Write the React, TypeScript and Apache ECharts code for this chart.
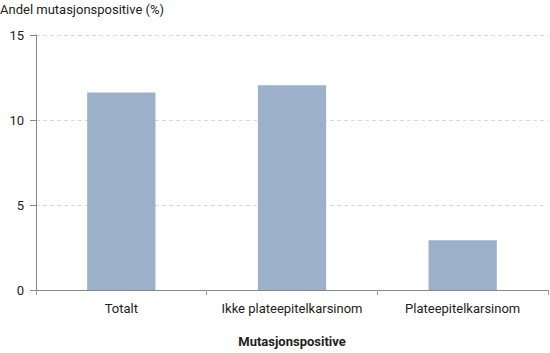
import React, { useEffect, useRef } from "react";
import * as echarts from "echarts";

const categories = ["Totalt", "Ikke plateepitelkarsinom", "Plateepitelkarsinom"];
const values = [11.62, 12.05, 2.93];
const yTicks = { min: 0, max: 15, interval: 5 };
const yTitle = "Andel mutasjonspositive (%)";
const xTitle = "Mutasjonspositive";

export default function App() {
  const ref = useRef<HTMLDivElement>(null);
  useEffect(() => {
    if (!ref.current) return;
    const chart = echarts.init(ref.current, null, { renderer: "svg" });
    const font = "Roboto, 'Noto Sans', sans-serif";
    chart.setOption({
      animation: false,
      textStyle: { fontFamily: font },
      grid: { left: 36, right: 2, top: 35, bottom: 59, containLabel: false },
      graphic: [
        {
          type: "text",
          left: 0,
          top: 3,
          style: { text: yTitle, fontSize: 13, fill: "#222", fontFamily: font },
        },
      ],
      xAxis: {
        type: "category",
        data: categories,
        name: xTitle,
        nameLocation: "middle",
        nameGap: 45,
        nameTextStyle: { fontSize: 13, fontWeight: "bold", color: "#222", fontFamily: font },
        axisLine: { lineStyle: { color: "#888", width: 1 } },
        axisTick: { show: true, length: 5, lineStyle: { color: "#999" } },
        axisLabel: { fontSize: 13, color: "#222", margin: 12, interval: 0, fontFamily: font },
      },
      yAxis: {
        type: "value",
        min: yTicks.min,
        max: yTicks.max,
        interval: yTicks.interval,
        axisLine: { show: true, lineStyle: { color: "#888", width: 1 } },
        axisTick: { show: true, length: 6, lineStyle: { color: "#888" } },
        axisLabel: { fontSize: 13, color: "#222", margin: 12, fontFamily: font },
        splitLine: { show: true, lineStyle: { color: "#d8d8d8", type: [4, 3] } },
      },
      series: [
        {
          type: "bar",
          data: values,
          barWidth: "40%",
          itemStyle: { color: "#9cb0c9" },
        },
      ],
    });
    return () => chart.dispose();
  }, []);
  return <div ref={ref} style={{ width: 550, height: 353, position: "absolute", left: 0, top: 0 }} />;
}
